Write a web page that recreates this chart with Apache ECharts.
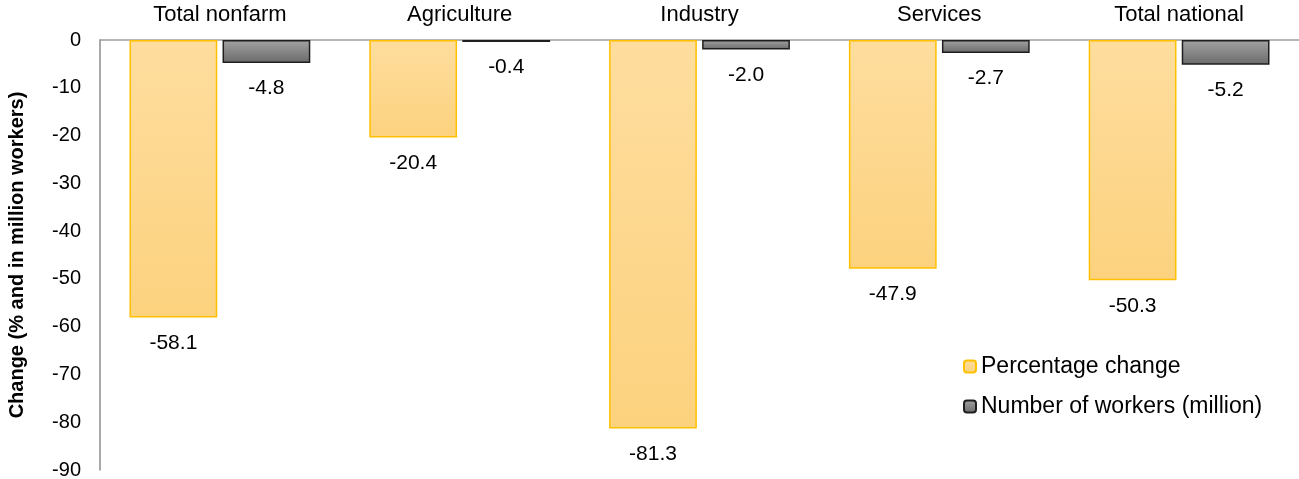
<!DOCTYPE html>
<html>
<head>
<meta charset="utf-8">
<style>
  html, body { margin: 0; padding: 0; background: #ffffff; }
  #chart { width: 1299px; height: 479px; }
</style>
<script src="https://cdn.jsdelivr.net/npm/echarts@6/dist/echarts.min.js"></script>
</head>
<body>
<div id="chart"></div>
<script>
// Sector categories shown along the top axis
const categories = ['Total nonfarm', 'Agriculture', 'Industry', 'Services', 'Total national'];

// Change in employment by sector
const percentageChange = [-58.1, -20.4, -81.3, -47.9, -50.3];
const workersMillion = [-4.8, -0.4, -2.0, -2.7, -5.2];

// Value axis range and step
const yMin = -90;
const yMax = 0;
const yStep = 10;

const FONT = '"Liberation Sans", Arial, sans-serif';

const chart = echarts.init(document.getElementById('chart'), null, { renderer: 'canvas' });

const orangeFill = new echarts.graphic.LinearGradient(0, 0, 0, 1, [
  { offset: 0, color: '#FEDD9E' },
  { offset: 1, color: '#FCD27E' }
]);
const greyFill = new echarts.graphic.LinearGradient(0, 0, 0, 1, [
  { offset: 0, color: '#A3A3A3' },
  { offset: 1, color: '#6A6A6A' }
]);

const labelStyle = {
  show: true,
  position: 'bottom',
  distance: 15,
  color: '#000000',
  fontFamily: FONT,
  fontSize: 21,
  formatter: p => p.value.toFixed(1)
};

chart.setOption({
  animation: false,
  backgroundColor: '#ffffff',
  grid: { left: 100, right: 0, top: 40, bottom: 9, containLabel: false, outerBoundsMode: 'none' },
  legend: {
    orient: 'vertical',
    left: 958,
    top: 350,
    itemGap: 17,
    itemWidth: 12,
    itemHeight: 12,
    textStyle: { fontFamily: FONT, fontSize: 23, color: '#000000' },
    data: ['Percentage change', 'Number of workers (million)']
  },
  xAxis: {
    type: 'category',
    position: 'top',
    data: categories,
    axisLine: { show: true, lineStyle: { color: '#9E9E9E', width: 1.5 } },
    axisTick: { show: false },
    axisLabel: { margin: 14, color: '#000000', fontFamily: FONT, fontSize: 22 }
  },
  yAxis: {
    type: 'value',
    min: yMin,
    max: yMax,
    interval: yStep,
    name: 'Change (% and in million workers)',
    nameLocation: 'middle',
    nameGap: 73,
    nameRotate: 90,
    nameTextStyle: { fontFamily: FONT, fontSize: 20, fontWeight: 'bold', color: '#000000' },
    axisLine: { show: true, lineStyle: { color: '#8C8C8C', width: 1.5 } },
    axisTick: { show: false },
    splitLine: { show: false },
    axisLabel: { margin: 19, color: '#000000', fontFamily: FONT, fontSize: 20 }
  },
  series: [
    {
      name: 'Percentage change',
      type: 'bar',
      data: percentageChange,
      barGap: '6%',
      barCategoryGap: '24.6%',
      itemStyle: { color: orangeFill, borderColor: '#FFC000', borderWidth: 1.5 },
      label: labelStyle
    },
    {
      name: 'Number of workers (million)',
      type: 'bar',
      data: workersMillion,
      barGap: '6%',
      barCategoryGap: '24.6%',
      itemStyle: { color: greyFill, borderColor: '#1E1E1E', borderWidth: 1.5 },
      label: labelStyle
    }
  ]
});
</script>
</body>
</html>
